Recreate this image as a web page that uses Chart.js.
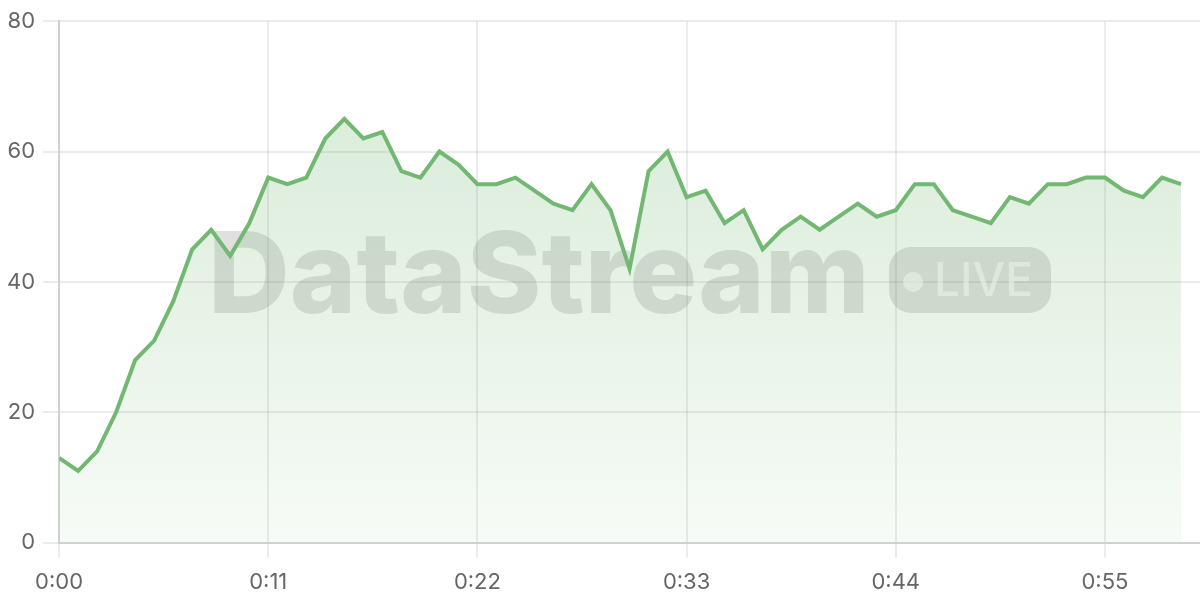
<!DOCTYPE html>
<html lang="en">

<head>
    <meta charset="UTF-8">
    <title>DataStream LIVE</title>
    <script src="https://cdn.jsdelivr.net/npm/chart.js"></script>
    <style>
        body {
            margin: 0;
            padding: 0;
            background: #fff;
        }

        .chart-box {
            width: 1200px;
            height: 600px;
        }
    </style>
</head>

<body>
    <div class="chart-box">
        <canvas id="streamChart"></canvas>
    </div>

    <script>
        // seconds since start
        const seconds = [
            0, 1, 2, 3, 4, 5, 6, 7, 8, 9,
            10, 11, 12, 13, 14, 15, 16, 17, 18, 19,
            20, 21, 22, 23, 24, 25, 26, 27, 28, 29,
            30, 31, 32, 33, 34, 35, 36, 37, 38, 39,
            40, 41, 42, 43, 44, 45, 46, 47, 48, 49,
            50, 51, 52, 53, 54, 55, 56, 57, 58, 59
        ];
        // stream values per second
        const values = [
            13, 11, 14, 20, 28, 31, 37, 45, 48, 44,
            49, 56, 55, 56, 62, 65, 62, 63, 57, 56,
            60, 58, 55, 55, 56, 54, 52, 51, 55, 51,
            42, 57, 60, 53, 54, 49, 51, 45, 48, 50,
            48, 50, 52, 50, 51, 55, 55, 51, 50, 49,
            53, 52, 55, 55, 56, 56, 54, 53, 56, 55
        ];
        const yTicks = [0, 20, 40, 60, 80];

        const fmtTime = s => Math.floor(s / 60) + ':' + String(s % 60).padStart(2, '0');

        // watermark behind the line
        const watermark = {
            id: 'watermark',
            beforeDatasetsDraw(chart) {
                const { ctx, chartArea } = chart;
                ctx.save();
                ctx.font = '800 112px Inter, sans-serif';
                const w1 = ctx.measureText('DataStream').width;
                const scale = 662 / w1;
                ctx.font = '800 ' + (112 * scale).toFixed(1) + 'px Inter, sans-serif';
                const gap = 19, pillW = 162, pillH = 66;
                const total = 662 + gap + pillW;
                const cx = (chartArea.left + chartArea.right) / 2;
                const x0 = cx - total / 2;
                const base = 313;
                ctx.fillStyle = 'rgba(0, 0, 0, 0.12)';
                ctx.textBaseline = 'alphabetic';
                ctx.fillText('DataStream', x0, base);

                const px = x0 + 662 + gap;
                const py = base - pillH;
                ctx.beginPath();
                ctx.roundRect(px, py, pillW, pillH, 22);
                ctx.fill();

                ctx.fillStyle = 'rgba(255, 255, 255, 0.62)';
                ctx.beginPath();
                ctx.arc(px + 24, py + 35, 10, 0, Math.PI * 2);
                ctx.fill();
                ctx.font = '500 46px Inter, sans-serif';
                ctx.fillText('LIVE', px + 45, base - 17);
                ctx.restore();
            }
        };

        new Chart(document.getElementById('streamChart'), {
            type: 'line',
            data: {
                datasets: [{
                    label: 'Stream',
                    data: values.map((v, i) => ({ x: seconds[i], y: v })),
                    borderColor: '#72b872',
                    borderWidth: 4,
                    pointRadius: 0,
                    tension: 0,
                    fill: 'origin',
                    backgroundColor: ctx => {
                        const area = ctx.chart.chartArea;
                        if (!area) return 'rgba(114,184,114,0.15)';
                        const g = ctx.chart.ctx.createLinearGradient(0, area.top, 0, area.bottom);
                        g.addColorStop(0, 'rgba(114, 184, 114, 0.3)');
                        g.addColorStop(1, 'rgba(114, 184, 114, 0.06)');
                        return g;
                    }
                }]
            },
            options: {
                responsive: true,
                maintainAspectRatio: false,
                animation: false,
                layout: { padding: { top: 8, right: 0, left: -1, bottom: -8 } },
                plugins: {
                    legend: { display: false },
                    tooltip: { enabled: false }
                },
                scales: {
                    x: {
                        type: 'linear',
                        min: 0,
                        max: 60,
                        border: { color: '#d0d0d0', width: 2 },
                        grid: { color: 'rgba(0, 0, 0, 0.08)', lineWidth: 2, tickLength: 15 },
                        ticks: {
                            stepSize: 11,
                            maxRotation: 0,
                            padding: 12,
                            color: '#666',
                            font: { family: 'Inter', size: 22 },
                            callback: v => (v % 11 === 0 && v < 60) ? fmtTime(v) : null
                        }
                    },
                    y: {
                        min: 0,
                        max: 80,
                        border: { color: '#d0d0d0', width: 2 },
                        grid: { color: 'rgba(0, 0, 0, 0.08)', lineWidth: 2, tickLength: 16 },
                        afterBuildTicks: axis => { axis.ticks = yTicks.map(v => ({ value: v })); },
                        ticks: {
                            padding: 8,
                            color: '#666',
                            font: { family: 'Inter', size: 22 }
                        }
                    }
                }
            },
            plugins: [watermark]
        });
    </script>
</body>

</html>
